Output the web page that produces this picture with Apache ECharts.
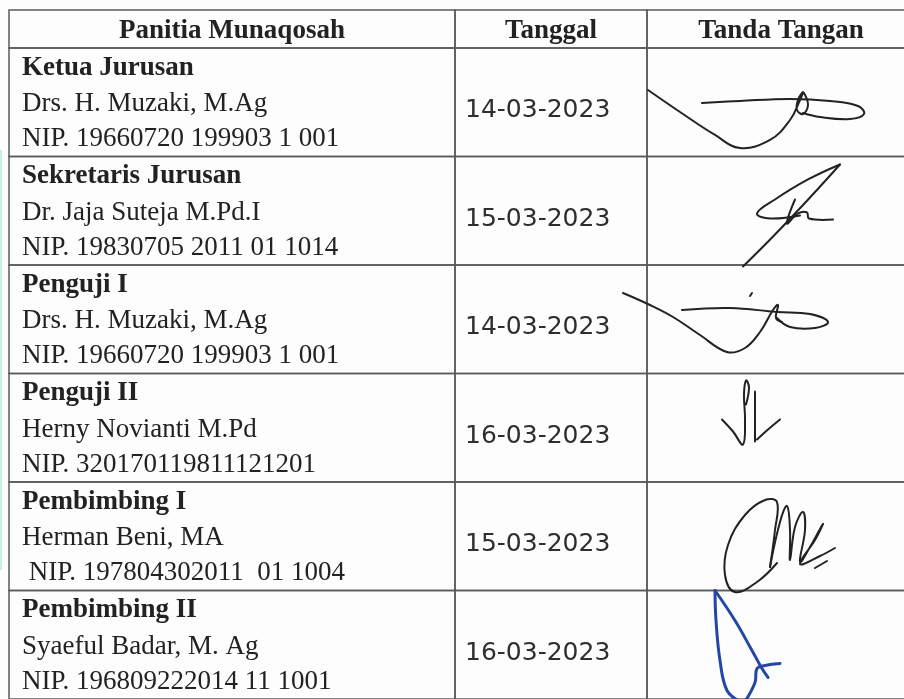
<!DOCTYPE html>
<html>
<head>
<meta charset="utf-8">
<script src="https://cdn.jsdelivr.net/npm/echarts@6/dist/echarts.min.js"></script>
<style>
  html, body { margin: 0; padding: 0; background: #fdfdfd; }
  #chart { width: 904px; height: 699px; }
</style>
</head>
<body>
<div id="chart"></div>
<script>
// table content
const headers = ['Panitia Munaqosah', 'Tanggal', 'Tanda Tangan']
const roles = ['Ketua Jurusan', 'Sekretaris Jurusan', 'Penguji I', 'Penguji II', 'Pembimbing I', 'Pembimbing II']
const names = ['Drs. H. Muzaki, M.Ag', 'Dr. Jaja Suteja M.Pd.I', 'Drs. H. Muzaki, M.Ag', 'Herny Novianti M.Pd', 'Herman Beni, MA', 'Syaeful Badar, M. Ag']
const nips = ['NIP. 19660720 199903 1 001', 'NIP. 19830705 2011 01 1014', 'NIP. 19660720 199903 1 001', 'NIP. 320170119811121201', ' NIP. 197804302011  01 1004', 'NIP. 196809222014 11 1001']
const dates = ['14-03-2023', '15-03-2023', '14-03-2023', '16-03-2023', '15-03-2023', '16-03-2023']

// signature strokes, one list per row (offset in the signature cell)
const signatures = [
  [
    [[1, 42], [33, 64], [68, 87], [93, 100], [123, 92], [143, 72], [153, 52], [156, 44], [151, 52], [150, 62], [156, 66], [161, 57], [157, 45]],
    [[55, 55], [93, 53], [143, 51], [183, 53], [211, 58], [217, 66], [203, 71], [173, 69], [156, 65]]
  ],
  [
    [[96, 110], [128, 78], [163, 41], [193, 8]],
    [[193, 8], [161, 23], [128, 43], [110, 57], [123, 62], [153, 59]],
    [[148, 43], [140, 67], [151, 57], [160, 56], [162, 62], [186, 63]]
  ],
  [
    [[-24, 28], [3, 40], [26, 52], [53, 70], [80, 87], [98, 83], [113, 67], [126, 45], [131, 40], [129, 53], [135, 57]],
    [[35, 45], [83, 43], [130, 47], [163, 49], [181, 57], [168, 63], [143, 62], [130, 53]],
    [[103, 31], [105, 28]]
  ],
  [
    [[75, 46], [86, 58], [96, 71], [98, 46], [97, 21], [99, 7], [102, 14], [99, 31]],
    [[108, 18], [108, 44], [108, 68]],
    [[110, 66], [121, 56], [133, 46]]
  ],
  [
    [[130, 81], [110, 100], [88, 110], [78, 93], [81, 63], [98, 33], [118, 18], [130, 20], [128, 48], [123, 85]],
    [[123, 85], [133, 40], [140, 24], [143, 48], [143, 78], [148, 45], [156, 30], [158, 48], [153, 80], [163, 65], [173, 47], [176, 42], [168, 58], [153, 82], [173, 74], [188, 66]],
    [[168, 86], [180, 79]]
  ],
  [
    [[68, 0], [69, 30], [73, 70], [80, 100], [93, 111]],
    [[68, 0], [88, 30], [105, 60], [115, 78], [121, 87]],
    [[98, 111], [108, 92], [110, 78], [118, 75], [133, 73]]
  ]
]

// layout (x axis in px units, y axis in row units); the last column runs past the page edge
const COL = [0, 446, 638, 906]
const X_MAX = 895
const HEAD = -0.35
const ROW_PX = 108.5
const LINE = '#5a5a5a'
const INK = '#222'
const SERIF = "'Liberation Serif', 'Times New Roman', serif"

const chart = echarts.init(document.getElementById('chart'))

function cellRects (api, top, bottom) {
  const y0 = api.coord([0, top])[1]
  const y1 = api.coord([0, bottom])[1]
  const out = []
  for (let c = 0; c < 3; c++) {
    const xa = api.coord([COL[c], top])[0]
    const xb = api.coord([COL[c + 1], top])[0]
    out.push({
      type: 'rect',
      shape: { x: xa, y: y0, width: xb - xa, height: y1 - y0 },
      style: { fill: 'none', stroke: LINE, lineWidth: 1.5 }
    })
  }
  return out
}

function headerItem (params, api) {
  const children = cellRects(api, HEAD, 0)
  const y = api.coord([0, HEAD])[1] + 21
  for (let c = 0; c < 3; c++) {
    const xa = api.coord([COL[c], 0])[0]
    const xb = api.coord([COL[c + 1], 0])[0]
    children.push({
      type: 'text',
      style: {
        x: (xa + xb) / 2, y: y, text: headers[c],
        font: 'bold 27px ' + SERIF, fill: INK, align: 'center', verticalAlign: 'middle'
      }
    })
  }
  return { type: 'group', children: children }
}

function rowItem (params, api) {
  const i = api.value(0)
  const children = cellRects(api, i, i + 1)
  const p0 = api.coord([COL[0], i])
  const p1 = api.coord([COL[1], i])
  const lines = [[roles[i], 'bold', 20], [names[i], 'normal', 56], [nips[i], 'normal', 91]]
  lines.forEach(function (l) {
    children.push({
      type: 'text',
      style: {
        x: p0[0] + 13, y: p0[1] + l[2], text: l[0],
        font: l[1] + ' 27px ' + SERIF, fill: INK, align: 'left', verticalAlign: 'middle'
      }
    })
  })
  children.push({
    type: 'text',
    style: {
      x: p1[0] + 10, y: p0[1] + 63, text: dates[i],
      font: "25px 'DejaVu Sans', sans-serif", fill: '#2e2e2e', align: 'left', verticalAlign: 'middle'
    }
  })
  return { type: 'group', children: children }
}

const strokeData = []
signatures.forEach(function (strokes, row) {
  strokes.forEach(function (s, k) { strokeData.push([row, k]) })
})

function strokeItem (params, api) {
  const row = api.value(0)
  const pts = signatures[row][api.value(1)].map(function (p) {
    return api.coord([COL[2] + p[0], row + p[1] / ROW_PX])
  })
  const blue = row === 5
  return {
    type: 'polyline',
    shape: { points: pts, smooth: 0.4 },
    style: { fill: 'none', stroke: blue ? '#2447a6' : INK, lineWidth: blue ? 3 : 2, lineCap: 'round', lineJoin: 'round' }
  }
}

const option = {
  backgroundColor: '#fdfdfd',
  animation: false,
  grid: { left: 9, top: 10, right: 0, bottom: 0 },
  xAxis: { type: 'value', min: 0, max: X_MAX, show: false },
  yAxis: { type: 'value', min: HEAD, max: roles.length, inverse: true, show: false },
  graphic: [
    { type: 'rect', left: 0, top: 150, shape: { width: 2, height: 420 }, style: { fill: '#c6efe2' } }
  ],
  series: [
    { type: 'custom', name: 'header', data: [[0]], renderItem: headerItem, silent: true },
    { type: 'custom', name: 'rows', data: roles.map(function (r, i) { return [i] }), renderItem: rowItem, silent: true },
    { type: 'custom', name: 'signatures', data: strokeData, renderItem: strokeItem, silent: true }
  ]
}
chart.setOption(option)
</script>
</body>
</html>
